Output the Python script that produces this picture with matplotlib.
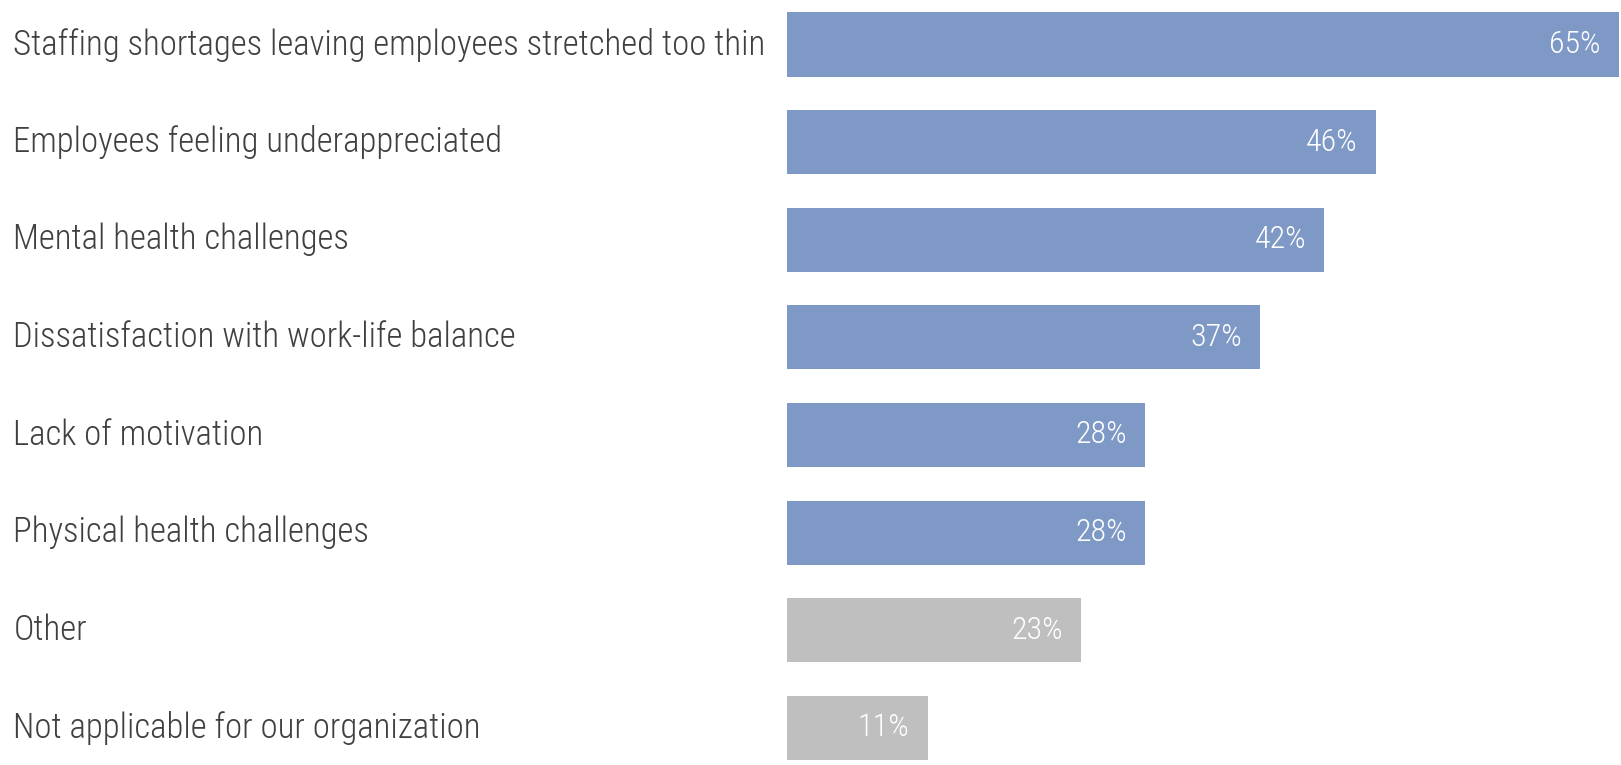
import matplotlib.pyplot as plt
import matplotlib.transforms as mtransforms

categories = [
    "Staffing shortages leaving employees stretched too thin",
    "Employees feeling underappreciated",
    "Mental health challenges",
    "Dissatisfaction with work-life balance",
    "Lack of motivation",
    "Physical health challenges",
    "Other",
    "Not applicable for our organization",
]
values = [65, 46, 42, 37, 28, 28, 23, 11]
bar_colors = ["#7F99C6"] * 6 + ["#BFBFBF"] * 2

plt.rcParams['font.family'] = ['Roboto Condensed', 'DejaVu Sans']
plt.rcParams['font.weight'] = 300

fig = plt.figure(figsize=(16.21, 7.65), dpi=100)
ax = fig.add_axes([786.7 / 1621, 0, 832.3 / 1621, 1])

y = list(range(len(categories)))
ax.barh(y, values, height=0.656, color=bar_colors, edgecolor='none')
ax.set_xlim(0, 65)
ax.set_ylim(7.381, -0.456)
ax.axis('off')

# category names sit at the left edge of the figure
trans = mtransforms.blended_transform_factory(fig.transFigure, ax.transData)
for yi, name in zip(y, categories):
    ax.text(13.4 / 1621, yi, name, transform=trans, ha='left', va='center',
            fontsize=25, color='#404040', fontweight=300)

# value labels inside the bar end
for yi, v in zip(y, values):
    ax.annotate(f"{v}%", (v, yi), xytext=(-13, 0), textcoords='offset points',
                ha='right', va='center', fontsize=23, color='white', fontweight=300)

fig.savefig('out.png', dpi=100)
